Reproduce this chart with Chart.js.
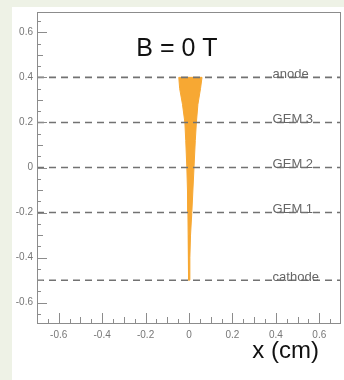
<!DOCTYPE html>
<html>
<head>
<meta charset="utf-8">
<script src="https://cdn.jsdelivr.net/npm/chart.js@4/dist/chart.umd.min.js"></script>
<style>
  html, body { margin: 0; padding: 0; background: #eef2e6; }
  #wrap { position: relative; width: 344px; height: 380px; }
</style>
</head>
<body>
<div id="wrap"><canvas id="c" width="344" height="380"></canvas></div>
<script>
// detector planes (y in cm) and their names
const planeY = [0.4, 0.2, 0, -0.2, -0.5];
const planeNames = ['anode', 'GEM 3', 'GEM 2', 'GEM 1', 'cathode'];

// electron cloud outline
const trackY     = [0.40, 0.35, 0.28, 0.20, 0.12, 0.00, -0.10, -0.20, -0.30, -0.40, -0.50];
const trackLeft  = [-0.047, -0.043, -0.030, -0.019, -0.015, -0.010, -0.007, -0.005, -0.004, -0.003, -0.001];
const trackRight = [0.060, 0.053, 0.041, 0.034, 0.029, 0.023, 0.018, 0.013, 0.007, 0.004, 0.002];

const xTicks = [-0.6, -0.4, -0.2, 0, 0.2, 0.4, 0.6];
const yTicks = [-0.6, -0.4, -0.2, 0, 0.2, 0.4, 0.6];
const xRange = [-0.7, 0.7];
const yRange = [-0.69, 0.69];

const AXIS = '#8c8c8c', LABEL = '#777', DASH = '#727272', ORANGE = '#f7a833';

// polygon: down the left edge, back up the right edge
const outline = trackY.map((y, i) => ({ x: trackLeft[i], y }))
  .concat(trackY.map((y, i) => ({ x: trackRight[i], y })).reverse());
outline.push(outline[0]);

const planeSets = planeY.map(y => ({
  data: [{ x: xRange[0], y }, { x: xRange[1], y }],
  showLine: true, borderColor: DASH, borderWidth: 1.6, borderDash: [7, 5],
  pointRadius: 0, order: 0,
}));

const fmt = v => v === 0 ? '0' : String(Math.round(v * 10) / 10);

const decor = {
  id: 'decor',
  beforeDraw(chart) {
    const { ctx, width, height } = chart;
    ctx.save();
    ctx.fillStyle = '#eef2e6';
    ctx.fillRect(0, 0, width, height);
    ctx.fillStyle = '#fff';
    ctx.fillRect(12, 7, width - 12, height - 7);
    ctx.restore();
  },
  afterDatasetsDraw(chart) {
    const { ctx, chartArea: a, scales: { x, y } } = chart;
    ctx.save();
    ctx.strokeStyle = AXIS;
    ctx.lineWidth = 1;
    ctx.strokeRect(a.left + 0.5, a.top + 0.5, a.right - a.left - 1, a.bottom - a.top);
    ctx.beginPath();
    // inward ticks every 0.05, longer at 0.1 and 0.2
    for (let k = -14; k <= 14; k++) {
      const v = k * 0.05;
      const len = k % 4 === 0 ? 10 : (k % 2 === 0 ? 6 : 4);
      const px = Math.round(x.getPixelForValue(v)) + 0.5;
      if (px > a.left + 1 && px < a.right - 1) { ctx.moveTo(px, a.bottom); ctx.lineTo(px, a.bottom - len); }
      const py = Math.round(y.getPixelForValue(v)) + 0.5;
      if (py > a.top + 1 && py < a.bottom - 1) { ctx.moveTo(a.left, py); ctx.lineTo(a.left + len, py); }
    }
    ctx.stroke();
    // plane names
    ctx.fillStyle = '#666';
    ctx.font = '13px "Liberation Sans", Arial, sans-serif';
    ctx.textAlign = 'left';
    ctx.textBaseline = 'alphabetic';
    planeY.forEach((v, i) => {
      ctx.fillText(planeNames[i], x.getPixelForValue(0.385), y.getPixelForValue(v) + 0.5);
    });
    ctx.restore();
  },
  afterDraw(chart) {
    const ctx = chart.ctx;
    ctx.save();
    ctx.fillStyle = '#111';
    ctx.textBaseline = 'alphabetic';
    ctx.font = '25px "Liberation Sans", Arial, sans-serif';
    ctx.textAlign = 'center';
    ctx.fillText('B = 0 T', 177, 56);
    ctx.font = '24px "Liberation Sans", Arial, sans-serif';
    ctx.textAlign = 'right';
    ctx.fillText('x (cm)', 319, 358);
    ctx.restore();
  }
};

new Chart(document.getElementById('c'), {
  type: 'scatter',
  data: {
    datasets: [
      ...planeSets,
      {
        data: outline, showLine: true, fill: 'shape', tension: 0,
        borderColor: ORANGE, backgroundColor: ORANGE, borderWidth: 1,
        pointRadius: 0, order: 1,
      },
    ],
  },
  options: {
    responsive: false,
    animation: false,
    layout: { padding: { left: 0, top: 12, right: 3, bottom: 0 } },
    plugins: { legend: { display: false }, tooltip: { enabled: false } },
    scales: {
      x: {
        type: 'linear', min: xRange[0], max: xRange[1],
        grid: { display: false, drawTicks: false }, border: { display: false },
        afterBuildTicks: s => { s.ticks = xTicks.map(v => ({ value: v })); },
        afterFit: s => { s.height = 57; },
        ticks: { callback: fmt, color: LABEL, padding: 6, maxRotation: 0, autoSkip: false,
                 font: { family: 'Liberation Sans', size: 10 } },
      },
      y: {
        type: 'linear', min: yRange[0], max: yRange[1],
        grid: { display: false, drawTicks: false }, border: { display: false },
        afterBuildTicks: s => { s.ticks = yTicks.map(v => ({ value: v })); },
        afterFit: s => { s.width = 37; },
        ticks: { callback: fmt, color: LABEL, padding: 4, autoSkip: false,
                 font: { family: 'Liberation Sans', size: 10 } },
      },
    },
  },
  plugins: [decor],
});
</script>
</body>
</html>
